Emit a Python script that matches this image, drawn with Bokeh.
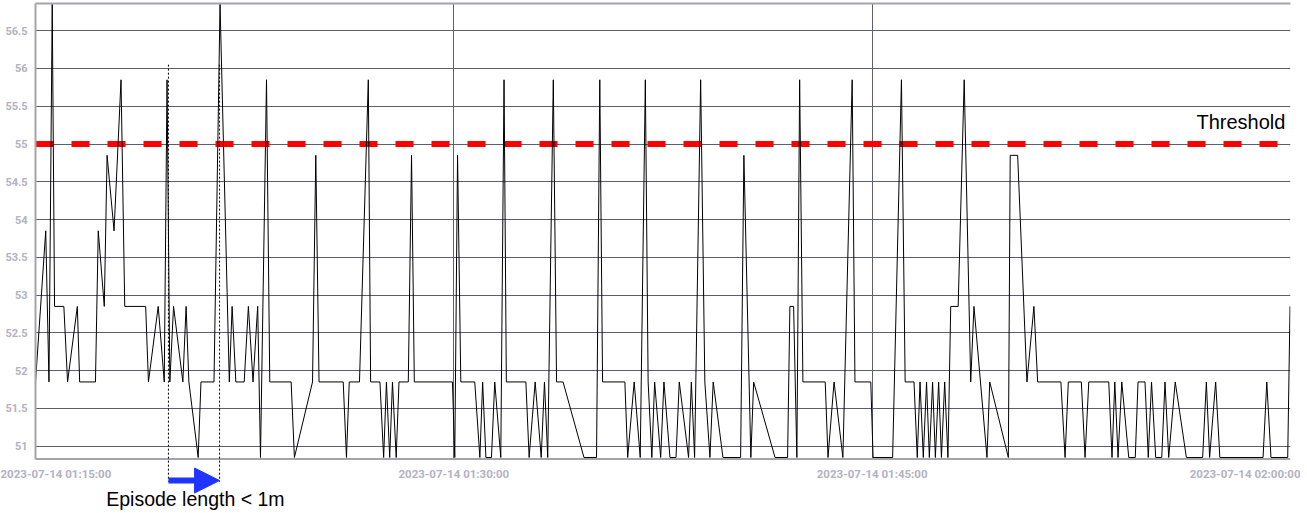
import pandas as pd
from bokeh.plotting import figure
from bokeh.models import (FixedTicker, DatetimeAxis, Arrow, NormalHead, Label,
                          ColumnDataSource, Range1d, Span)
from bokeh.embed import file_html
from bokeh.resources import INLINE

# ---------------- data ----------------
start_time = "2023-07-14 01:15:00"
end_time = "2023-07-14 02:00:00"

# seconds after 01:15:00
offsets_s = [
    0, 22, 29, 36, 41, 61, 69, 90, 95, 129, 135, 148, 154, 169, 184, 192, 237, 243,
    264, 277, 283, 289, 297, 317, 324, 330, 350, 356, 384, 397, 417, 423, 431, 449,
    458, 468, 478, 484, 497, 504, 550, 557, 596, 603, 610, 662, 669, 675, 697, 716,
    721, 741, 749, 755, 762, 768, 776, 782, 802, 809, 815, 897, 902, 908, 915, 945,
    956, 962, 969, 981, 988, 1001, 1008, 1013, 1055, 1062, 1075, 1088, 1095, 1102,
    1114, 1121, 1135, 1180, 1207, 1214, 1220, 1268, 1274, 1288, 1301, 1312, 1318,
    1326, 1332, 1345, 1352, 1365, 1378, 1385, 1405, 1411, 1418, 1431, 1440, 1451,
    1458, 1479, 1517, 1524, 1539, 1545, 1591, 1618, 1623, 1631, 1638, 1644, 1651,
    1699, 1705, 1718, 1737, 1757, 1763, 1797, 1802, 1844, 1863, 1871, 1890, 1897,
    1903, 1910, 1917, 1923, 1930, 1936, 1943, 1949, 1956, 1963, 1969, 1985, 1998,
    2012, 2019, 2047, 2053, 2093, 2097, 2113, 2133, 2148, 2156, 2206, 2215, 2222,
    2250, 2258, 2266, 2309, 2316, 2322, 2329, 2337, 2352, 2366, 2372, 2387, 2394,
    2401, 2410, 2423, 2430, 2438, 2452, 2476, 2511, 2519, 2526, 2539, 2548, 2641,
    2649, 2658, 2694, 2699,
]
readings = [
    51.85, 53.85, 51.85, 56.85, 52.85, 52.85, 51.85, 52.85, 51.85, 51.85, 53.85, 52.85,
    54.85, 53.85, 55.85, 52.85, 52.85, 51.85, 52.85, 51.85, 55.85, 51.85, 52.85, 51.85,
    52.85, 51.85, 50.85, 51.85, 51.85, 56.85, 51.85, 52.85, 51.85, 51.85, 52.85, 51.85,
    52.85, 50.85, 55.85, 51.85, 51.85, 50.85, 51.85, 54.85, 51.85, 51.85, 50.85, 51.85,
    51.85, 55.85, 51.85, 51.85, 50.85, 51.85, 50.85, 51.85, 50.85, 51.85, 51.85, 54.85,
    51.85, 51.85, 50.85, 54.85, 51.85, 51.85, 50.85, 51.85, 50.85, 50.85, 51.85, 50.85,
    55.85, 51.85, 51.85, 50.85, 51.85, 50.85, 51.85, 50.85, 55.85, 51.85, 51.85, 50.85,
    50.85, 55.85, 51.85, 51.85, 50.85, 51.85, 50.85, 55.85, 51.85, 50.85, 51.85, 50.85,
    51.85, 50.85, 50.85, 51.85, 50.85, 51.85, 50.85, 55.85, 51.85, 50.85, 51.85, 50.85,
    50.85, 54.85, 50.85, 51.85, 50.85, 50.85, 52.85, 52.85, 50.85, 55.85, 51.85, 51.85,
    50.85, 51.85, 50.85, 55.85, 51.85, 51.85, 50.85, 50.85, 55.85, 51.85, 51.85, 50.85,
    51.85, 50.85, 51.85, 50.85, 51.85, 50.85, 51.85, 50.85, 51.85, 50.85, 52.85, 52.85,
    55.85, 51.85, 52.85, 50.85, 51.85, 50.85, 54.85, 54.85, 51.85, 52.85, 51.85, 51.85,
    50.85, 51.85, 51.85, 50.85, 51.85, 51.85, 50.85, 51.85, 50.85, 51.85, 50.85, 50.85,
    51.85, 51.85, 50.85, 51.85, 50.85, 50.85, 51.85, 50.85, 51.85, 50.85, 50.85, 51.85,
    50.85, 51.85, 50.85, 50.85, 51.85, 50.85, 50.85, 52.85,
]

threshold = 55.0
threshold_label = "Threshold"
episode_start = "2023-07-14 01:19:46"
episode_end = "2023-07-14 01:21:36"
episode_label = "Episode length < 1m"

x_tick_labels = ["2023-07-14 01:15:00", "2023-07-14 01:30:00",
                 "2023-07-14 01:45:00", "2023-07-14 02:00:00"]
y_tick_values = [51, 51.5, 52, 52.5, 53, 53.5, 54, 54.5, 55, 55.5, 56, 56.5]
y_tick_labels = ["51", "51.5", "52", "52.5", "53", "53.5", "54", "54.5",
                 "55", "55.5", "56", "56.5"]

# value axis extent, plus the room kept below it for the episode note
y_top = 56.86
y_axis_bottom = 50.83
y_view_bottom = 50.135


def ms(ts):
    return pd.Timestamp(ts).value / 1e6


times = pd.Timestamp(start_time) + pd.to_timedelta(offsets_s, unit="s")
src = ColumnDataSource(dict(t=times, v=readings))
x_tick_ms = [ms(s) for s in x_tick_labels]

LABEL_GREY = "#b2b2c2"
AXIS_GREY = "#a4a4ae"
GRID = "#5e5e72"
BLUE = "#1f35ff"

p = figure(width=1300, height=512, x_axis_type="datetime",
           output_backend="svg", toolbar_location=None,
           x_range=Range1d(ms(start_time), ms(end_time)),
           y_range=Range1d(y_view_bottom, y_top),
           min_border_left=35, min_border_right=10,
           min_border_top=3, min_border_bottom=1)
p.outline_line_color = None
p.background_fill_color = "white"
p.border_fill_color = "white"

# x axis: sits at the bottom of the frame, labels pulled up under the value axis
xa = p.xaxis[0]
xa.ticker = FixedTicker(ticks=x_tick_ms)
xa.major_label_overrides = {t: s for t, s in zip(x_tick_ms, x_tick_labels)}
xa.major_label_text_font = "Roboto"
xa.major_label_text_font_style = "bold"
xa.major_label_text_font_size = "11.5px"
xa.major_label_text_color = LABEL_GREY
xa.major_label_standoff = -45
xa.major_tick_out = 0
xa.major_tick_in = 0
xa.minor_tick_out = 0
xa.minor_tick_in = 0
xa.axis_line_color = None

# y axis
ya = p.yaxis[0]
ya.ticker = FixedTicker(ticks=y_tick_values)
ya.bounds = (y_axis_bottom, y_top)
ya.major_label_overrides = {t: s for t, s in zip(y_tick_values, y_tick_labels)}
ya.major_label_text_font = "Roboto"
ya.major_label_text_font_style = "bold"
ya.major_label_text_font_size = "11px"
ya.major_label_text_color = LABEL_GREY
ya.major_label_standoff = 8
ya.major_tick_out = 0
ya.major_tick_in = 0
ya.minor_tick_out = 0
ya.minor_tick_in = 0
ya.axis_line_color = AXIS_GREY
ya.axis_line_width = 2

# top border as an empty axis
top = DatetimeAxis(ticker=FixedTicker(ticks=[]), major_label_text_font_size="0px",
                   major_tick_out=0, major_tick_in=0, minor_tick_out=0, minor_tick_in=0,
                   major_label_standoff=0, axis_line_color=AXIS_GREY, axis_line_width=2)
p.add_layout(top, "above")

# grids
p.ygrid.ticker = FixedTicker(ticks=y_tick_values)
p.ygrid.grid_line_color = GRID
p.ygrid.grid_line_width = 1
p.xgrid.ticker = FixedTicker(ticks=x_tick_ms[1:-1])
p.xgrid.grid_line_color = GRID
p.xgrid.grid_line_width = 1
try:
    p.xgrid.cross_bounds = (y_axis_bottom, y_top)
except Exception:
    p.xgrid.visible = False
    p.segment(x0=x_tick_ms[1:-1], x1=x_tick_ms[1:-1],
              y0=[y_axis_bottom] * 2, y1=[y_top] * 2, line_color=GRID, line_width=1)

# bottom line of the value axis
p.add_layout(Span(location=y_axis_bottom, dimension="width",
                  line_color=AXIS_GREY, line_width=2))

# threshold
p.add_layout(Span(location=threshold, dimension="width", line_color="#ff0000",
                  line_width=6, line_dash="18 18", level="underlay"))
p.add_layout(Label(x=ms("2023-07-14 01:59:49"), y=55.29, text=threshold_label,
                   text_align="right", text_baseline="alphabetic",
                   text_font="Liberation Sans", text_font_size="20px", text_color="black"))

# series
p.line("t", "v", source=src, line_color="black", line_width=1)

# episode markers
for e in (episode_start, episode_end):
    p.add_layout(Arrow(end=None, x_start=ms(e), y_start=56.05, x_end=ms(e), y_end=50.53,
                       line_color="black", line_width=1, line_dash="2 2"))

shaft_end = "2023-07-14 01:20:46"
p.add_layout(Arrow(end=None, x_start=ms(episode_start), y_start=50.545,
                   x_end=ms(shaft_end), y_end=50.545,
                   line_color=BLUE, line_width=6))
p.add_layout(Arrow(end=NormalHead(size=25, fill_color=BLUE, line_color=BLUE, line_width=1),
                   x_start=ms(shaft_end), y_start=50.545,
                   x_end=ms(episode_end), y_end=50.545,
                   line_color=BLUE, line_alpha=0.0, line_width=1))
p.add_layout(Label(x=ms("2023-07-14 01:20:44"), y=50.30, text=episode_label,
                   text_align="center", text_baseline="alphabetic",
                   text_font="Liberation Sans", text_font_size="19.5px", text_color="black"))

open("out.html", "w").write(file_html(p, INLINE))
